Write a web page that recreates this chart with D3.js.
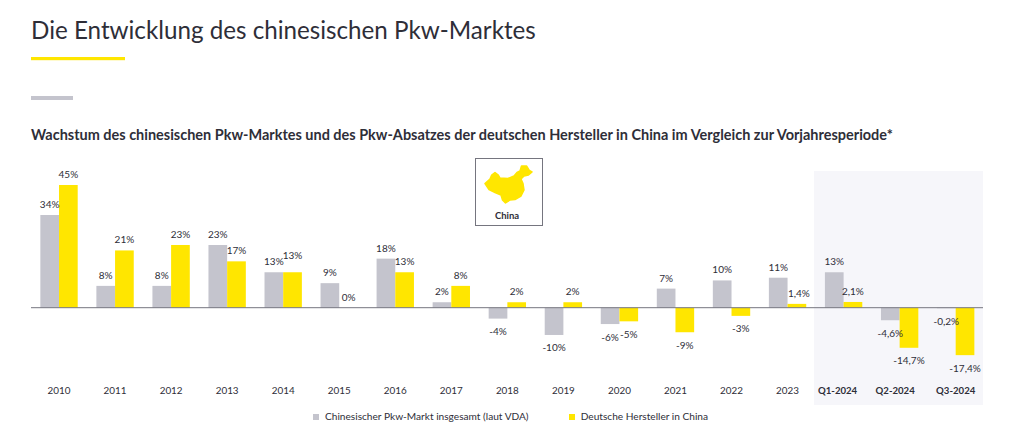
<!DOCTYPE html>
<html><head><meta charset="utf-8">
<script src="https://cdn.jsdelivr.net/npm/d3@7"></script>
<style>html,body{margin:0;padding:0;background:#fff}svg{display:block}text{font-family:Lato,"Noto Sans",sans-serif;fill:#2e2e38}</style>
</head><body><svg id="c" width="1024" height="436"></svg>
<script>
const categories=["2010","2011","2012","2013","2014","2015","2016","2017","2018","2019","2020","2021","2022","2023","Q1-2024","Q2-2024","Q3-2024"];
const seriesNames=["Chinesischer Pkw-Markt insgesamt (laut VDA)","Deutsche Hersteller in China"];
const marketValues=[34,8,8,23,13,9,18,2,-4,-10,-6,7,10,11,13,-4.6,-0.2];
const germanValues=[45,21,23,17,13,0,13,8,2,2,-5,-9,-3,1.4,2.1,-14.7,-17.4];
const marketLabels=["34%","8%","8%","23%","13%","9%","18%","2%","-4%","-10%","-6%","7%","10%","11%","13%","-4,6%","-0,2%"];
const germanLabels=["45%","21%","23%","17%","13%","0%","13%","8%","2%","2%","-5%","-9%","-3%","1,4%","2,1%","-14,7%","-17,4%"];
const colors=["#c4c4cd","#ffe600"];
const highlighted=["Q1-2024","Q2-2024","Q3-2024"];
const title="Die Entwicklung des chinesischen Pkw-Marktes";
const subtitle="Wachstum des chinesischen Pkw-Marktes und des Pkw-Absatzes der deutschen Hersteller in China im Vergleich zur Vorjahresperiode*";

const svg=d3.select("#c");
const x=d3.scaleBand().domain(categories).range([31,983.7]);
const x1=d3.scaleBand().domain([0,1]).range([0,x.bandwidth()]).paddingOuter(0.5);
const y=d3.scaleLinear().domain([0,45]).range([307.7,185]);

// header
svg.append("text").attr("x",31).attr("y",39).attr("font-size",24.2).text(title);
svg.append("rect").attr("x",31).attr("y",57).attr("width",94).attr("height",3.2).attr("fill","#ffe600");
svg.append("rect").attr("x",31).attr("y",96).attr("width",42).attr("height",4).attr("fill","#c4c4cd");
svg.append("text").attr("x",31).attr("y",140).attr("font-size",14.48).attr("font-weight",700).text(subtitle);

// highlight panel
svg.append("rect").attr("x",814).attr("y",171).attr("width",169).attr("height",234).attr("fill","#f6f6fa");

// bars
[marketValues,germanValues].forEach((vals,s)=>{
  svg.append("g").selectAll("rect").data(vals).join("rect")
    .attr("x",(d,i)=>x(categories[i])+x1(s))
    .attr("width",x1.bandwidth())
    .attr("y",d=>Math.min(y(d),y(0)))
    .attr("height",d=>Math.abs(y(d)-y(0)))
    .attr("fill",colors[s]);
});

// zero line
svg.append("line").attr("x1",31).attr("x2",983).attr("y1",y(0)).attr("y2",y(0)).attr("stroke","#75757f").attr("stroke-width",1);

// value labels
[[marketValues,marketLabels],[germanValues,germanLabels]].forEach(([vals,labs],s)=>{
  svg.append("g").selectAll("text").data(labs).join("text")
    .attr("x",(d,i)=>x(categories[i])+x1(s)+x1.bandwidth()/2+(s===1&&categories[i]==="2023"?2:0))
    .attr("y",(d,i)=>{
      const v=vals[i];
      const nudge=(s===1&&categories[i]==="2014")?-6:0;
      return v>=0?y(v)-7+nudge:y(v)+16.5;
    })
    .attr("text-anchor","middle").attr("font-size",10).attr("fill","#3a3a44").text(d=>d);
});

// category axis
const ax=svg.append("g").attr("transform","translate(0,394)")
  .call(d3.axisBottom(x).tickSize(0).tickPadding(0));
ax.select(".domain").remove();
ax.selectAll("text").attr("dy",0).attr("y",0)
  .attr("dx",d=>d==="Q1-2024"?-6:d==="Q2-2024"?-4.5:0)
  .attr("font-size",d=>highlighted.includes(d)?9.6:9.9)
  .attr("font-weight",d=>highlighted.includes(d)?700:400)
  .style("font-family","Lato").style("fill","#2e2e38");

// China inset
svg.append("rect").attr("x",475.5).attr("y",158.5).attr("width",67).attr("height",67).attr("fill","#fff").attr("stroke","#75757f").attr("stroke-width",1);
svg.append("path").attr("fill","#ffe600").attr("stroke","#ffe600").attr("stroke-linejoin","round").attr("stroke-width",1.5)
 .attr("d","M485,183.5 L490,179 L491.7,175 L495,172.5 L498.3,175 L500,178 L508,178.5 L514,176 L517,172.5 L520,171 L521.5,166 L526.5,166 L529.3,170.5 L532,172 L528.5,175 L524,176 L521,179 L523,183.5 L524,190 L521,196 L515,199.5 L510,200 L505.5,203 L502.5,200 L501,195 L495,192.5 L489,189.5 Z");
svg.append("text").attr("x",507).attr("y",219).attr("text-anchor","middle").attr("font-size",9.5).attr("font-weight",700).text("China");

// legend
const legendX=[313,569];
const legendTextX=[325,580.7];
seriesNames.forEach((n,i)=>{
  svg.append("rect").attr("x",legendX[i]).attr("y",414).attr("width",6).attr("height",6).attr("fill",colors[i]);
  svg.append("text").attr("x",legendTextX[i]).attr("y",420).attr("font-size",10.15).text(n);
});
</script></body></html>
